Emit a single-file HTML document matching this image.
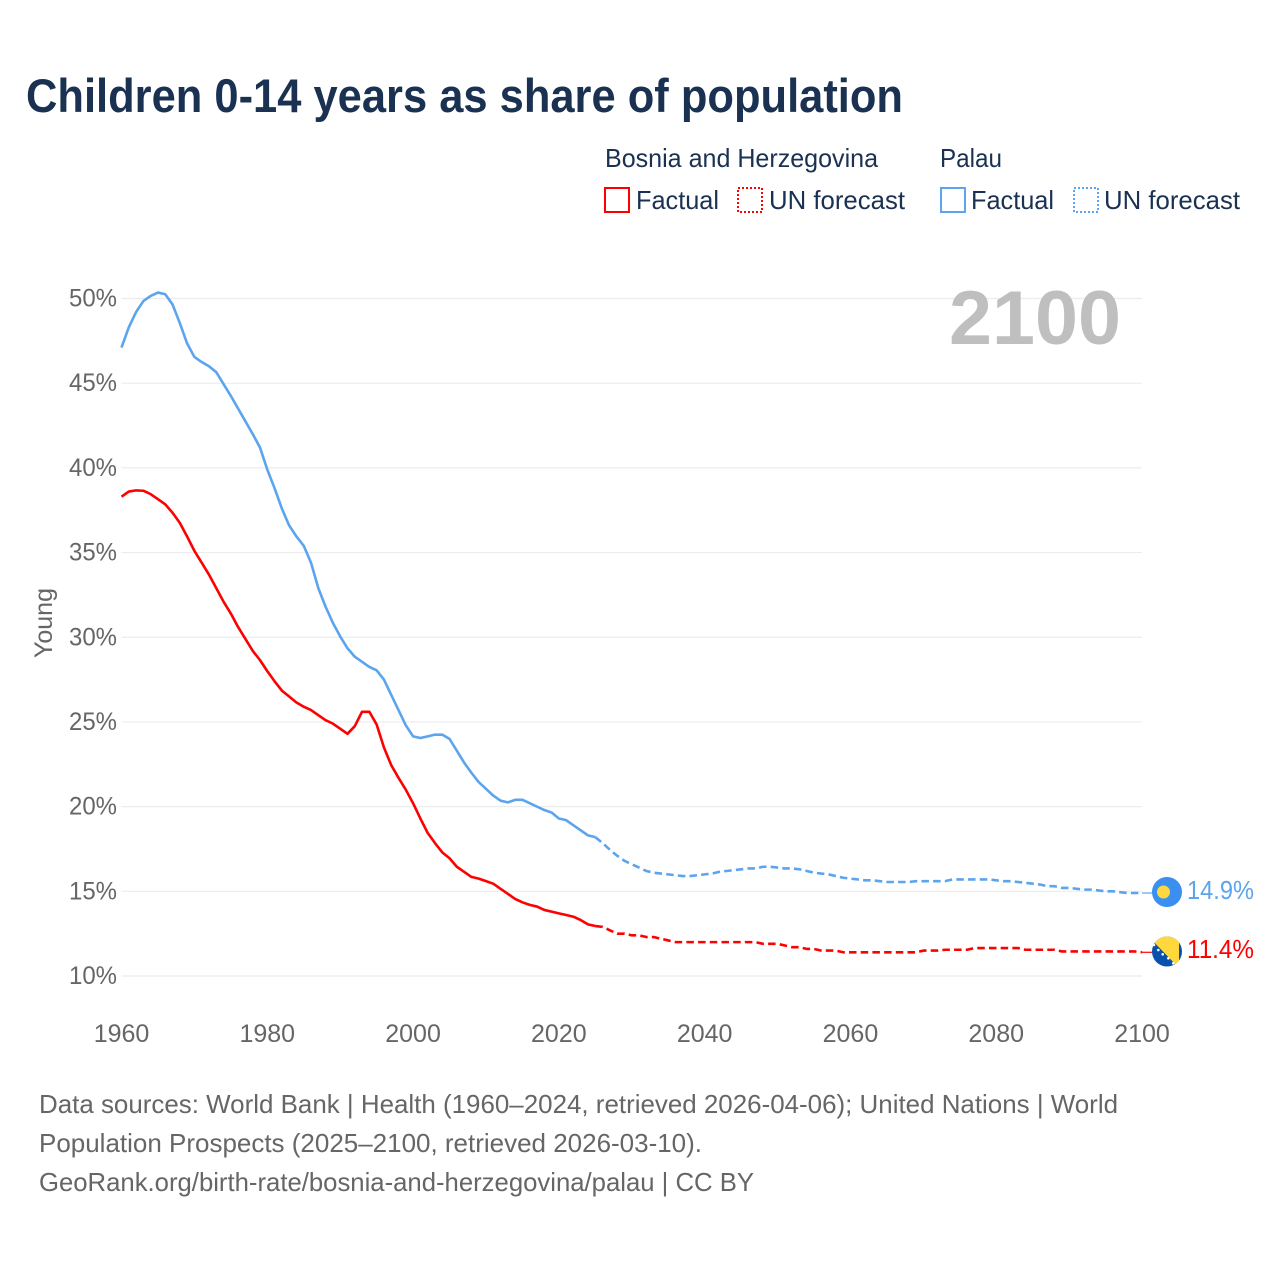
<!DOCTYPE html>
<html lang="en">
<head>
<meta charset="utf-8">
<title>Children 0-14 years as share of population</title>
<style>
html,body{margin:0;padding:0;background:#fff;width:1280px;height:1280px;overflow:hidden}
svg{display:block}
text{font-family:"Liberation Sans",sans-serif}
</style>
</head>
<body>
<svg id="chart" xmlns="http://www.w3.org/2000/svg" width="1280" height="1280" viewBox="0 0 1280 1280">
  <defs>
    <clipPath id="clip-top"><circle cx="1167" cy="892" r="15"/></clipPath>
    <clipPath id="clip-bot"><circle cx="1167" cy="951.5" r="15"/></clipPath>
  </defs>
  <rect x="0" y="0" width="1280" height="1280" fill="#fff"/>
  <text x="26" y="112" font-size="47" font-weight="700" fill="#1a3152" textLength="877" lengthAdjust="spacingAndGlyphs">Children 0-14 years as share of population</text>

  <g font-size="26" fill="#1a3152">
    <text x="605" y="167" textLength="273" lengthAdjust="spacingAndGlyphs">Bosnia and Herzegovina</text>
    <text x="940" y="167" textLength="62" lengthAdjust="spacingAndGlyphs">Palau</text>
    <rect x="605" y="188" width="24" height="24" fill="none" stroke="#ff0000" stroke-width="2"/>
    <text x="636" y="209" textLength="83" lengthAdjust="spacingAndGlyphs">Factual</text>
    <rect x="738" y="188" width="24" height="24" fill="none" stroke="#ff0000" stroke-width="2" stroke-dasharray="2 2"/>
    <text x="769" y="209" textLength="136" lengthAdjust="spacingAndGlyphs">UN forecast</text>
    <rect x="941" y="188" width="24" height="24" fill="none" stroke="#5ba4ee" stroke-width="2"/>
    <text x="971" y="209" textLength="83" lengthAdjust="spacingAndGlyphs">Factual</text>
    <rect x="1074" y="188" width="24" height="24" fill="none" stroke="#5ba4ee" stroke-width="2" stroke-dasharray="2 2"/>
    <text x="1104" y="209" textLength="136" lengthAdjust="spacingAndGlyphs">UN forecast</text>
  </g>

  <g id="grid"></g>
  <text x="949" y="344" font-size="76" font-weight="700" fill="#bfbfbf" textLength="172" lengthAdjust="spacingAndGlyphs">2100</text>
  <g id="yticks" font-size="25" fill="#666"></g>
  <g id="xticks" font-size="25" fill="#666"></g>
  <text transform="translate(52 658) rotate(-90)" font-size="25" fill="#666" textLength="70" lengthAdjust="spacingAndGlyphs">Young</text>
  <g id="series"></g>

  <g clip-path="url(#clip-top)">
    <rect x="1152" y="877" width="30" height="30" fill="#3a8ff0"/>
    <circle cx="1163.5" cy="892" r="6.5" fill="#ffd83d"/>
  </g>
  <g clip-path="url(#clip-bot)">
    <rect x="1152" y="936" width="30" height="31" fill="#0a50ad"/>
    <polygon points="1148,936 1179,936 1179,968" fill="#ffd83d"/>
    <g fill="#fff">
      <circle cx="1154" cy="945" r="1.3"/><circle cx="1158.3" cy="950" r="1.3"/><circle cx="1162.7" cy="954.3" r="1.3"/><circle cx="1168.3" cy="958.3" r="1.3"/><circle cx="1173.3" cy="963.3" r="1.3"/>
    </g>
  </g>
  <text id="label-palau" x="1187" y="899" font-size="26" fill="#5ba4ee" textLength="67" lengthAdjust="spacingAndGlyphs">14.9%</text>
  <text id="label-bosnia" x="1187" y="958" font-size="26" fill="#ff0000" textLength="67" lengthAdjust="spacingAndGlyphs">11.4%</text>

  <g font-size="26" fill="#666">
    <text x="39" y="1113" textLength="1079" lengthAdjust="spacingAndGlyphs">Data sources: World Bank | Health (1960–2024, retrieved 2026-04-06); United Nations | World</text>
    <text x="39" y="1152" textLength="663" lengthAdjust="spacingAndGlyphs">Population Prospects (2025–2100, retrieved 2026-03-10).</text>
    <text x="39" y="1191" textLength="715" lengthAdjust="spacingAndGlyphs">GeoRank.org/birth-rate/bosnia-and-herzegovina/palau | CC BY</text>
  </g>
</svg>
<script>
var yTickValues = [10, 15, 20, 25, 30, 35, 40, 45, 50];
var xTickYears = [1960, 1980, 2000, 2020, 2040, 2060, 2080, 2100];
var firstYear = 1960;
var lastFactualYear = 2025;
var palauFactual = [47.1,48.3,49.2,49.85,50.15,50.35,50.25,49.65,48.55,47.35,46.55,46.25,46.0,45.65,44.95,44.25,43.5,42.75,42.0,41.2,39.9,38.8,37.6,36.6,35.95,35.4,34.4,32.9,31.8,30.85,30.05,29.35,28.85,28.55,28.25,28.05,27.5,26.6,25.7,24.8,24.15,24.05,24.15,24.25,24.25,24.0,23.3,22.6,22.0,21.45,21.05,20.65,20.35,20.25,20.4,20.4,20.2,20.0,19.8,19.65,19.3,19.2,18.9,18.6,18.3,18.2];
var palauForecast = [18.2,17.85,17.45,17.1,16.8,16.6,16.4,16.2,16.1,16.05,16.0,15.95,15.9,15.9,15.95,16.0,16.05,16.15,16.2,16.25,16.3,16.35,16.35,16.45,16.45,16.4,16.35,16.35,16.3,16.2,16.1,16.05,16.0,15.9,15.8,15.75,15.7,15.65,15.65,15.6,15.55,15.55,15.55,15.55,15.6,15.6,15.6,15.6,15.6,15.7,15.7,15.7,15.7,15.7,15.7,15.65,15.6,15.6,15.55,15.5,15.45,15.4,15.3,15.3,15.2,15.2,15.15,15.1,15.1,15.05,15.0,15.0,14.95,14.9,14.9,14.9];
var bosniaFactual = [38.3,38.6,38.67,38.65,38.45,38.15,37.85,37.35,36.75,35.95,35.1,34.4,33.7,32.9,32.1,31.4,30.6,29.9,29.2,28.65,28.0,27.4,26.85,26.5,26.15,25.9,25.7,25.4,25.1,24.9,24.6,24.3,24.75,25.6,25.6,24.85,23.5,22.45,21.7,21.0,20.2,19.3,18.45,17.85,17.3,16.95,16.45,16.15,15.85,15.75,15.6,15.45,15.15,14.85,14.55,14.35,14.2,14.1,13.9,13.8,13.7,13.6,13.5,13.3,13.05,12.95];
var bosniaForecast = [12.95,12.9,12.7,12.5,12.5,12.4,12.4,12.3,12.3,12.2,12.1,12.0,12.0,12.0,12.0,12.0,12.0,12.0,12.0,12.0,12.0,12.0,12.0,11.9,11.9,11.9,11.8,11.7,11.7,11.6,11.6,11.5,11.5,11.5,11.4,11.4,11.4,11.4,11.4,11.4,11.4,11.4,11.4,11.4,11.4,11.5,11.5,11.5,11.55,11.55,11.55,11.55,11.65,11.65,11.65,11.65,11.65,11.65,11.65,11.55,11.55,11.55,11.55,11.55,11.45,11.45,11.45,11.45,11.45,11.45,11.45,11.45,11.45,11.45,11.45,11.4];

var NS = 'http://www.w3.org/2000/svg';
function xScale(year) { return 121.5 + (year - 1960) * (1142 - 121.5) / 140; }
function yScale(value) { return 976 - (value - 10) * (976 - 298.5) / 40; }
function pathFrom(values, startYear) {
  var d = '';
  for (var i = 0; i < values.length; i++) {
    d += (i ? 'L' : 'M') + xScale(startYear + i).toFixed(2) + ' ' + yScale(values[i]).toFixed(2);
  }
  return d;
}

var gridGroup = document.getElementById('grid');
var yTickGroup = document.getElementById('yticks');
yTickValues.forEach(function (v) {
  var line = document.createElementNS(NS, 'line');
  
  
  line.setAttribute('x1', xScale(1960));
  line.setAttribute('x2', xScale(2100));
  line.setAttribute('y1', yScale(v));
  line.setAttribute('y2', yScale(v));
  line.setAttribute('stroke', '#ececec');
  line.setAttribute('stroke-width', '1.2');
  gridGroup.appendChild(line);
  var t = document.createElementNS(NS, 'text');
  
  
  t.setAttribute('x', 117);
  t.setAttribute('y', yScale(v) + 8);
  t.setAttribute('text-anchor', 'end');
  t.setAttribute('textLength', '48');
  t.setAttribute('lengthAdjust', 'spacingAndGlyphs');
  t.textContent = v + '%';
  yTickGroup.appendChild(t);
});

var xTickGroup = document.getElementById('xticks');
xTickYears.forEach(function (year) {
  var t = document.createElementNS(NS, 'text');
  
  
  t.setAttribute('x', xScale(year));
  t.setAttribute('y', 1042);
  t.setAttribute('text-anchor', 'middle');
  t.textContent = year;
  xTickGroup.appendChild(t);
});

var seriesGroup = document.getElementById('series');
function addLine(values, startYear, color, dashed, name) {
  var p = document.createElementNS(NS, 'path');
  
  
  p.setAttribute('d', pathFrom(values, startYear));
  p.setAttribute('fill', 'none');
  p.setAttribute('stroke', color);
  p.setAttribute('stroke-width', '2.6');
  p.setAttribute('stroke-linejoin', 'round');
  if (dashed) p.setAttribute('stroke-dasharray', '7.5 4.2');
  seriesGroup.appendChild(p);
}
addLine(palauFactual, firstYear, '#5ba4ee', false, 'palau-factual-line');
addLine(palauForecast, lastFactualYear, '#5ba4ee', true, 'palau-forecast-line');
addLine(bosniaFactual, firstYear, '#ff0000', false, 'bosnia-factual-line');
addLine(bosniaForecast, lastFactualYear, '#ff0000', true, 'bosnia-forecast-line');

function addConnector(value, color, name) {
  var c = document.createElementNS(NS, 'line');
  
  
  c.setAttribute('x1', xScale(2100));
  c.setAttribute('x2', 1153);
  c.setAttribute('y1', yScale(value));
  c.setAttribute('y2', yScale(value));
  c.setAttribute('stroke', color);
  c.setAttribute('stroke-width', '1.2');
  seriesGroup.appendChild(c);
}
addConnector(palauForecast[palauForecast.length - 1], '#5ba4ee', 'palau-flag-connector');
addConnector(bosniaForecast[bosniaForecast.length - 1], '#ff0000', 'bosnia-flag-connector');
</script>
</body>
</html>
